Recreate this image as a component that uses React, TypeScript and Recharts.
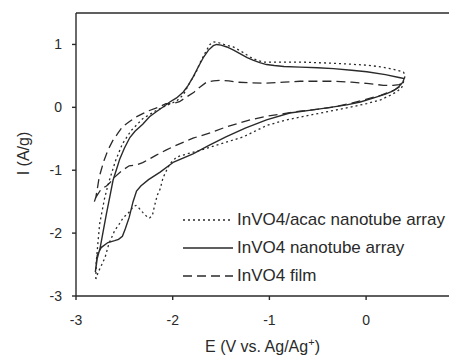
import React from 'react';
import { LineChart, Line, XAxis, YAxis, ReferenceLine, Legend } from 'recharts';

// InVO4/acac nanotube array (dotted)
const acacE = [-2.795, -2.79, -2.77, -2.755, -2.73, -2.705, -2.68, -2.655, -2.62, -2.59, -2.52, -2.43, -2.31, -2.17, -2.05, -1.96, -1.89, -1.82, -1.76, -1.72, -1.66, -1.615, -1.58, -1.53, -1.47, -1.373, -1.28, -1.2, -1.13, -1.06, -0.9, -0.683, -0.5, -0.338, -0.15, 0.007, 0.15, 0.248, 0.33, 0.386, 0.404,
  0.39, 0.37, 0.32, 0.248, 0.15, 0.007, -0.17, -0.338, -0.5, -0.683, -0.85, -1.03, -1.27, -1.5, -1.72, -1.85, -1.96, -2.03, -2.063, -2.10, -2.13, -2.16, -2.19, -2.21, -2.24, -2.26, -2.29, -2.31, -2.35, -2.38, -2.41, -2.43, -2.47, -2.51, -2.55, -2.60, -2.66, -2.70, -2.73, -2.77, -2.795];
const acacI = [-2.73, -2.45, -2.1, -1.85, -1.65, -1.45, -1.30, -1.16, -0.99, -0.845, -0.58, -0.37, -0.18, -0.05, 0.04, 0.10, 0.20, 0.40, 0.55, 0.70, 0.88, 1.0, 1.04, 1.03, 1.0, 0.96, 0.88, 0.80, 0.75, 0.72, 0.72, 0.72, 0.71, 0.70, 0.685, 0.67, 0.645, 0.615, 0.585, 0.56, 0.51,
  0.42, 0.32, 0.25, 0.19, 0.12, 0.06, 0.0, -0.05, -0.10, -0.155, -0.21, -0.29, -0.47, -0.58, -0.685, -0.74, -0.79, -0.90, -1.0, -1.12, -1.30, -1.40, -1.58, -1.72, -1.76, -1.75, -1.70, -1.67, -1.60, -1.56, -1.58, -1.63, -1.70, -1.75, -1.85, -1.96, -2.17, -2.39, -2.49, -2.62, -2.73];

// InVO4 nanotube array (solid)
const tubeE = [-2.80, -2.78, -2.75, -2.72, -2.685, -2.65, -2.617, -2.58, -2.547, -2.50, -2.443, -2.39, -2.31, -2.24, -2.17, -2.10, -2.03, -1.96, -1.89, -1.84, -1.79, -1.74, -1.68, -1.63, -1.58, -1.545, -1.50, -1.44, -1.37, -1.30, -1.23, -1.17, -1.10, -1.03, -0.95, -0.85, -0.68, -0.5, -0.338, -0.15, 0.007, 0.2, 0.34, 0.393,
  0.38, 0.34, 0.28, 0.2, 0.08, -0.06, -0.2, -0.37, -0.55, -0.79, -1.03, -1.25, -1.45, -1.62, -1.79, -1.99, -2.13, -2.25, -2.33, -2.374, -2.41, -2.45, -2.49, -2.52, -2.56, -2.60, -2.67, -2.74, -2.78, -2.80];
const tubeI = [-2.62, -2.40, -2.23, -1.98, -1.69, -1.42, -1.16, -0.98, -0.82, -0.65, -0.48, -0.38, -0.27, -0.15, -0.07, 0.005, 0.085, 0.15, 0.245, 0.35, 0.48, 0.63, 0.80, 0.91, 0.98, 1.0, 0.99, 0.96, 0.91, 0.85, 0.79, 0.75, 0.71, 0.68, 0.665, 0.65, 0.64, 0.63, 0.615, 0.59, 0.565, 0.52, 0.475, 0.457,
  0.40, 0.33, 0.26, 0.21, 0.15, 0.085, 0.04, 0.0, -0.04, -0.09, -0.20, -0.33, -0.47, -0.60, -0.74, -0.87, -1.03, -1.15, -1.25, -1.33, -1.50, -1.75, -1.93, -2.05, -2.10, -2.12, -2.15, -2.23, -2.35, -2.62];

// InVO4 film (dashed)
const filmE = [-2.81, -2.795, -2.78, -2.76, -2.74, -2.71, -2.67, -2.62, -2.57, -2.52, -2.45, -2.38, -2.31, -2.24, -2.15, -2.07, -2.0, -1.93, -1.857, -1.78, -1.72, -1.65, -1.58, -1.51, -1.42, -1.34, -1.2, -1.03, -0.85, -0.683, -0.5, -0.338, -0.15, 0.007, 0.18, 0.28, 0.34, 0.37,
  0.35, 0.30, 0.248, 0.15, 0.007, -0.17, -0.338, -0.5, -0.683, -0.85, -1.03, -1.2, -1.445, -1.6, -1.79, -1.96, -2.07, -2.17, -2.24, -2.31, -2.38, -2.45, -2.52, -2.6, -2.65, -2.685, -2.74, -2.79, -2.81];
const filmI = [-1.50, -1.43, -1.30, -1.11, -1.0, -0.845, -0.68, -0.53, -0.42, -0.31, -0.23, -0.155, -0.10, -0.05, 0.0, 0.06, 0.06, 0.09, 0.165, 0.24, 0.32, 0.40, 0.42, 0.43, 0.42, 0.40, 0.39, 0.385, 0.40, 0.415, 0.415, 0.415, 0.40, 0.38, 0.35, 0.35, 0.36, 0.38,
  0.33, 0.28, 0.25, 0.19, 0.13, 0.06, 0.005, -0.03, -0.06, -0.10, -0.14, -0.20, -0.31, -0.40, -0.49, -0.60, -0.68, -0.76, -0.82, -0.88, -0.92, -0.93, -1.0, -1.11, -1.2, -1.25, -1.30, -1.42, -1.50];

const xTicks = [-3, -2, -1, 0];
const yTicks = [-3, -2, -1, 0, 1];
const seriesNames = ['InVO4/acac nanotube array', 'InVO4 nanotube array', 'InVO4 film'];
const seriesDash = ['2 3', undefined, '9 5'];

const zip = (e: number[], i: number[]) => e.map((x, k) => ({ e: x, i: i[k] }));
const acacData = zip(acacE, acacI);
const tubeData = zip(tubeE, tubeI);
const filmData = zip(filmE, filmI);

const FONT = '"Liberation Sans", Arial, sans-serif';
const INK = '#2a2a2a';

const LegendContent = () => (
  <div style={{ fontFamily: FONT, fontSize: 17, color: INK }}>
    {seriesNames.map((n, k) => (
      <div key={n} style={{ display: 'flex', alignItems: 'center', height: 28 }}>
        <svg width={54} height={28} style={{ display: 'block' }}>
          <line x1={0} y1={14} x2={50} y2={14} stroke={INK} strokeWidth={1.4} strokeDasharray={seriesDash[k]} />
        </svg>
        <span style={{ whiteSpace: 'nowrap' }}>{n}</span>
      </div>
    ))}
  </div>
);

const YLabel = (props: any) => {
  const vb = props.viewBox || { x: 0, y: 0, width: 0, height: 0 };
  const cx = vb.x + 15;
  const cy = vb.y + vb.height / 2 - 1;
  return (
    <text x={cx} y={cy} transform={`rotate(-90 ${cx} ${cy})`} textAnchor="middle" dominantBaseline="central"
      fontFamily={FONT} fontSize={16} fill={INK}>I (A/g)</text>
  );
};

const XLabel = (props: any) => {
  const vb = props.viewBox || { x: 0, y: 0, width: 0, height: 0 };
  const cx = vb.x + vb.width / 2 - 4;
  const cy = vb.y + 56;
  return (
    <text x={cx} y={cy} textAnchor="middle" fontFamily={FONT} fontSize={16} fill={INK}>
      E (V vs. Ag/Ag<tspan dy={-6} fontSize={11}>+</tspan><tspan dy={6}>)</tspan>
    </text>
  );
};

export default function App() {
  return (
    <div style={{ width: 449, height: 356 }}>
      <LineChart width={449} height={356} margin={{ top: 5, right: 0, left: 0, bottom: 0 }}>
        <XAxis type="number" dataKey="e" domain={[-3, 0.94]} ticks={xTicks} allowDataOverflow
          stroke={INK} strokeWidth={1.4} tickSize={4} tickMargin={15} height={68}
          tick={{ fill: INK, fontSize: 14, fontFamily: FONT }} label={<XLabel />} />
        <YAxis type="number" domain={[-3, 1.5]} ticks={yTicks} allowDataOverflow
          stroke={INK} strokeWidth={1.4} tickSize={4} tickMargin={10} width={68}
          tick={{ fill: INK, fontSize: 14, fontFamily: FONT }} label={<YLabel />} />
        <ReferenceLine y={1.5} stroke={INK} strokeWidth={1.4} />
        <Legend content={<LegendContent />} layout="horizontal" verticalAlign="middle" align="center"
          wrapperStyle={{ position: 'absolute', left: 175, top: 198, width: 'auto' }} />
        <Line data={acacData} dataKey="i" type="linear" dot={false} stroke={INK} strokeWidth={1.3}
          strokeDasharray="2 3" isAnimationActive={false} legendType="none" />
        <Line data={tubeData} dataKey="i" type="linear" dot={false} stroke={INK} strokeWidth={1.4}
          isAnimationActive={false} legendType="none" />
        <Line data={filmData} dataKey="i" type="linear" dot={false} stroke={INK} strokeWidth={1.3}
          strokeDasharray="9 5" isAnimationActive={false} legendType="none" />
      </LineChart>
    </div>
  );
}
